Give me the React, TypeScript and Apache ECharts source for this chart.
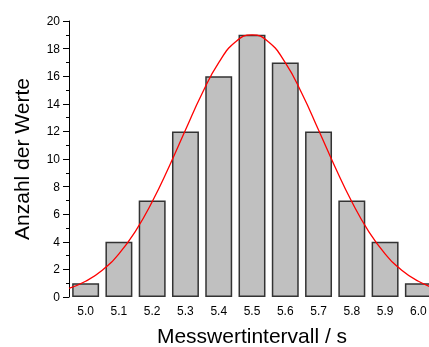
import React, { useEffect, useRef } from "react";
import * as echarts from "echarts";

const categories = ["5.0", "5.1", "5.2", "5.3", "5.4", "5.5", "5.6", "5.7", "5.8", "5.9", "6.0"];
const counts = [1, 4, 7, 12, 16, 19, 17, 12, 7, 4, 1];
const curveX = [4.95, 5.0, 5.05, 5.1, 5.15, 5.2, 5.25, 5.3, 5.35, 5.4, 5.45, 5.5, 5.55, 5.6, 5.65, 5.7, 5.75, 5.8, 5.85, 5.9, 5.95, 6.0, 6.05];
const curveY = [0.63, 1.14, 1.94, 3.13, 4.78, 6.9, 9.4, 12.1, 14.75, 16.98, 18.47, 19.0, 18.47, 16.98, 14.75, 12.1, 9.4, 6.9, 4.78, 3.13, 1.94, 1.14, 0.63];
const yTicks = { min: 0, max: 20, step: 2 };

export default function App() {
  const ref = useRef<HTMLDivElement>(null);
  useEffect(() => {
    if (!ref.current) return;
    const chart = echarts.init(ref.current, null, { renderer: "svg" });
    const font = "Liberation Sans, Arial, sans-serif";
    chart.setOption({
      animation: false,
      grid: { left: 69, right: -6, top: 21, bottom: 50, containLabel: false, outerBoundsMode: "none" },
      xAxis: [
        {
          type: "category",
          data: categories,
          boundaryGap: true,
          axisLine: { show: false },
          axisTick: { show: false },
          axisLabel: { color: "#000", fontSize: 12, fontFamily: font, margin: 8 },
          name: "Messwertintervall / s",
          nameLocation: "middle",
          nameGap: 28,
          nameTextStyle: { color: "#000", fontSize: 21, fontFamily: font, lineHeight: 21 },
          splitLine: { show: false },
        },
        {
          type: "value",
          min: 4.95,
          max: 6.05,
          show: false,
        },
      ],
      yAxis: {
        type: "value",
        min: yTicks.min,
        max: yTicks.max,
        interval: yTicks.step,
        axisLine: { show: true, lineStyle: { color: "#000", width: 1 } },
        axisTick: { show: true, inside: false, length: 6, lineStyle: { color: "#000" } },
        minorTick: { show: true, splitNumber: 2, length: 3, lineStyle: { color: "#000" } },
        axisLabel: { color: "#000", fontSize: 12, fontFamily: font, margin: 9 },
        splitLine: { show: false },
        name: "Anzahl der Werte",
        nameLocation: "middle",
        nameGap: 37,
        nameTextStyle: { color: "#000", fontSize: 21, fontFamily: font },
      },
      series: [
        {
          type: "bar",
          xAxisIndex: 0,
          data: counts,
          barWidth: "81%",
          itemStyle: { color: "#c0c0c0", borderColor: "#333", borderWidth: 1.5 },
        },
        {
          type: "line",
          xAxisIndex: 1,
          data: curveX.map((x, i) => [x, curveY[i]]),
          smooth: true,
          symbol: "none",
          lineStyle: { color: "#ff0000", width: 1.3 },
          clip: false,
        },
      ],
    });
    return () => chart.dispose();
  }, []);
  return <div ref={ref} style={{ position: "fixed", left: 0, top: 0, width: 429, height: 347 }} />;
}
